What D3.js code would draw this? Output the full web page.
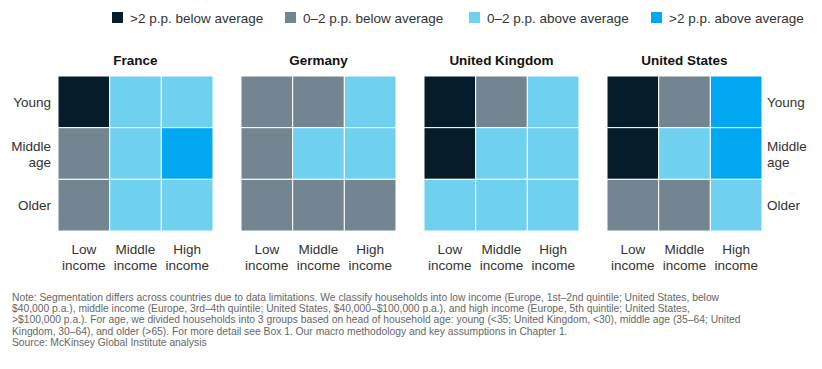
<!DOCTYPE html>
<html>
<head>
<meta charset="utf-8">
<script src="https://cdn.jsdelivr.net/npm/d3@7"></script>
<style>
  body { margin: 0; background: #fff; }
  svg { font-family: "Liberation Sans", Arial, sans-serif; }
</style>
</head>
<body>
<div id="chart"></div>
<script>
// Data
const countries = ["France", "Germany", "United Kingdom", "United States"];
const ageGroups = ["Young", "Middle age", "Older"];
const incomeGroups = ["Low income", "Middle income", "High income"];
const legendLabels = [">2 p.p. below average", "0\u20132 p.p. below average", "0\u20132 p.p. above average", ">2 p.p. above average"];

// category index per cell: rows = age (Young, Middle age, Older), cols = income (Low, Middle, High)
const franceCells  = [[0, 2, 2], [1, 2, 3], [1, 2, 2]];
const germanyCells = [[1, 1, 2], [1, 2, 2], [1, 1, 1]];
const ukCells      = [[0, 1, 2], [0, 2, 2], [2, 2, 2]];
const usCells      = [[0, 1, 3], [0, 2, 3], [1, 1, 2]];

const noteLines = [
  "Note: Segmentation differs across countries due to data limitations. We classify households into low income (Europe, 1st\u20132nd quintile; United States, below",
  "$40,000 p.a.), middle income (Europe, 3rd\u20134th quintile; United States, $40,000\u2013$100,000 p.a.), and high income (Europe, 5th quintile; United States,",
  ">$100,000 p.a.). For age, we divided households into 3 groups based on head of household age: young (<35; United Kingdom, <30), middle age (35\u201364; United",
  "Kingdom, 30\u201364), and older (>65). For more detail see Box 1. Our macro methodology and key assumptions in Chapter 1.",
  "Source: McKinsey Global Institute analysis"
];

const cellsByCountry = {
  "France": franceCells,
  "Germany": germanyCells,
  "United Kingdom": ukCells,
  "United States": usCells
};

const width = 822, height = 369;
const colors = ["#071c2b", "#738591", "#6fd0f0", "#00a8f1"];
const color = d3.scaleOrdinal().domain(d3.range(4)).range(colors);

const svg = d3.select("#chart").append("svg")
  .attr("width", width)
  .attr("height", height);

// Legend
const legendX = [112, 285, 469, 651];
const legend = svg.append("g").attr("class", "legend");
legendLabels.forEach((lab, i) => {
  const g = legend.append("g").attr("transform", `translate(${legendX[i]}, 12)`);
  g.append("rect").attr("width", 11).attr("height", 11).attr("fill", color(i));
  g.append("text")
    .attr("x", 18).attr("y", 10.5)
    .attr("font-size", 13.5)
    .attr("fill", "#333")
    .text(lab);
});

// Panel scales
const panelX = d3.scaleBand().domain(countries).range([58, 762]).paddingInner(28 / 183);
const gridTop = 76;
const gridSize = panelX.bandwidth();
const xCell = d3.scaleBand().domain(incomeGroups).range([0, gridSize]);
const yCell = d3.scaleBand().domain(ageGroups).range([0, gridSize]);

countries.forEach((country, ci) => {
  const g = svg.append("g").attr("transform", `translate(${panelX(country)}, ${gridTop})`);

  g.append("text")
    .attr("x", gridSize / 2).attr("y", -11)
    .attr("text-anchor", "middle")
    .attr("font-size", 13.5)
    .attr("font-weight", "bold")
    .attr("fill", "#111")
    .text(country);

  const cells = [];
  cellsByCountry[country].forEach((row, r) => row.forEach((v, c) => {
    cells.push({ age: ageGroups[r], income: incomeGroups[c], v });
  }));

  g.selectAll("rect.cell")
    .data(cells)
    .enter().append("rect")
    .attr("class", "cell")
    .attr("x", d => xCell(d.income))
    .attr("y", d => yCell(d.age))
    .attr("width", xCell.bandwidth())
    .attr("height", yCell.bandwidth())
    .attr("fill", d => color(d.v))
    .attr("stroke", "#fff")
    .attr("stroke-width", 1);

  // income labels
  incomeGroups.forEach(inc => {
    const t = g.append("text")
      .attr("text-anchor", "middle")
      .attr("font-size", 13.5)
      .attr("fill", "#333");
    inc.split(" ").forEach((w, k) => {
      t.append("tspan")
        .attr("x", xCell(inc) + xCell.bandwidth() / 2)
        .attr("y", gridSize + 23 + k * 16)
        .text(w);
    });
  });

  // age labels, left for first, right for last
  if (ci === 0 || ci === countries.length - 1) {
    const left = ci === 0;
    ageGroups.forEach(age => {
      const words = age === "Middle age" ? ["Middle", "age"] : [age];
      const cy = yCell(age) + yCell.bandwidth() / 2;
      const t = g.append("text")
        .attr("text-anchor", left ? "end" : "start")
        .attr("font-size", 13.5)
        .attr("fill", "#333");
      words.forEach((w, k) => {
        t.append("tspan")
          .attr("x", left ? -7 : gridSize + 5)
          .attr("y", cy + 5 - (words.length - 1) * 8 + k * 16)
          .text(w);
      });
    });
  }
});

// Notes
const notes = svg.append("g").attr("class", "notes");
noteLines.forEach((line, i) => {
  notes.append("text")
    .attr("x", 12)
    .attr("y", 301 + i * 11.2)
    .attr("font-size", 10.3)
    .attr("fill", "#666")
    .text(line);
});
</script>
</body>
</html>
